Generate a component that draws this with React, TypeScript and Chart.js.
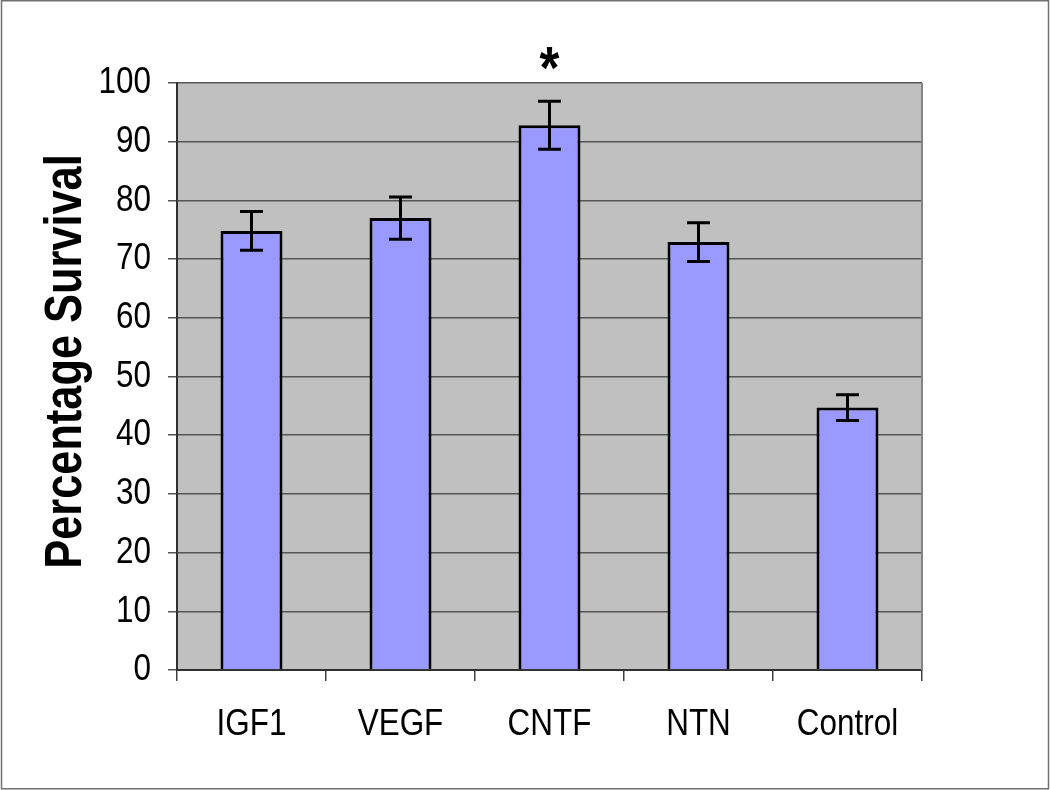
import React, { useEffect, useRef } from 'react';
import { Chart, registerables } from 'chart.js';

Chart.register(...registerables);

const categories: string[] = ['IGF1', 'VEGF', 'CNTF', 'NTN', 'Control'];
const survival: number[] = [74.8, 77.0, 92.8, 72.9, 44.7];
const errors: number[] = [3.3, 3.6, 4.1, 3.3, 2.2];
const significant: boolean[] = [false, false, true, false, false];
const yMin = 0;
const yMax = 100;
const yStep = 10;
const yTitle = 'Percentage Survival';

const FONT = "'Liberation Sans', Arial, sans-serif";
const TEXT_SQUEEZE = 0.85;

const decorPlugin = {
  id: 'decor',
  beforeDraw(chart: any) {
    const { ctx, chartArea, width, height } = chart;
    ctx.save();
    ctx.fillStyle = '#ffffff';
    ctx.fillRect(0, 0, width, height);
    ctx.fillStyle = '#c0c0c0';
    ctx.fillRect(chartArea.left, chartArea.top, chartArea.right - chartArea.left, chartArea.bottom - chartArea.top);
    ctx.strokeStyle = '#707070';
    ctx.lineWidth = 1.5;
    ctx.strokeRect(1.5, 0.75, width - 3, height - 2);
    ctx.restore();
  },
  beforeDatasetsDraw(chart: any) {
    const { ctx, chartArea } = chart;
    ctx.save();
    ctx.strokeStyle = '#858585';
    ctx.lineWidth = 2;
    ctx.beginPath();
    ctx.moveTo(chartArea.right, chartArea.top);
    ctx.lineTo(chartArea.right, chartArea.bottom);
    ctx.stroke();
    ctx.restore();
  },
  afterDatasetsDraw(chart: any) {
    const { ctx } = chart;
    const meta = chart.getDatasetMeta(0);
    const y = chart.scales.y;
    ctx.save();
    ctx.strokeStyle = '#000000';
    ctx.lineWidth = 3;
    ctx.lineCap = 'butt';
    meta.data.forEach((bar: any, i: number) => {
      const x = bar.x;
      const top = y.getPixelForValue(survival[i] + errors[i]);
      const bot = y.getPixelForValue(survival[i] - errors[i]);
      const cap = 11.5;
      ctx.beginPath();
      ctx.moveTo(x, top);
      ctx.lineTo(x, bot);
      ctx.moveTo(x - cap, top);
      ctx.lineTo(x + cap, top);
      ctx.moveTo(x - cap, bot);
      ctx.lineTo(x + cap, bot);
      ctx.stroke();
      if (significant[i]) {
        ctx.fillStyle = '#000000';
        ctx.font = `bold 60px ${FONT}`;
        ctx.textAlign = 'center';
        ctx.textBaseline = 'alphabetic';
        ctx.fillText('*', x, top - 13);
      }
    });
    ctx.restore();
  },
  afterDraw(chart: any) {
    // y-axis title, centred a little above the plot's middle as in the reference
    const { ctx, chartArea } = chart;
    const cy = (chartArea.top + chartArea.bottom) / 2 - 15;
    ctx.save();
    ctx.translate(67, cy);
    ctx.rotate(-Math.PI / 2);
    ctx.fillStyle = '#000000';
    ctx.font = `bold 51px ${FONT}`;
    ctx.textAlign = 'center';
    ctx.textBaseline = 'middle';
    ctx.fillText(yTitle, 0, 0);
    ctx.restore();
  },
};

export default function App() {
  const ref = useRef<HTMLCanvasElement | null>(null);

  useEffect(() => {
    document.body.style.margin = '0';
    const canvas = ref.current;
    if (!canvas) return;
    const ctx2d: any = canvas.getContext('2d');
    if (ctx2d && !ctx2d.__squeezed) {
      const origFill = ctx2d.fillText.bind(ctx2d);
      ctx2d.fillText = (text: string, x: number, y: number, maxWidth?: number) => {
        ctx2d.save();
        ctx2d.translate(x, y);
        ctx2d.scale(TEXT_SQUEEZE, 1);
        if (maxWidth === undefined) origFill(text, 0, 0);
        else origFill(text, 0, 0, maxWidth / TEXT_SQUEEZE);
        ctx2d.restore();
      };
      ctx2d.__squeezed = true;
    }
    const chart = new Chart(canvas, {
      type: 'bar',
      data: {
        labels: categories,
        datasets: [
          {
            data: survival,
            backgroundColor: '#9999ff',
            borderColor: '#000000',
            borderWidth: 3,
            barPercentage: 0.416,
            categoryPercentage: 1,
          },
        ],
      },
      options: {
        responsive: false,
        animation: false,
        devicePixelRatio: 1,
        layout: { padding: { left: 0, right: 128, top: 83, bottom: 0 } },
        plugins: {
          legend: { display: false },
          tooltip: { enabled: false },
        },
        scales: {
          x: {
            offset: true,
            grid: {
              display: true,
              offset: true,
              drawOnChartArea: false,
              drawTicks: true,
              tickLength: 11,
              color: '#404040',
              lineWidth: 1.5,
            },
            border: { display: true, color: '#303030', width: 2 },
            ticks: {
              color: '#000000',
              padding: 22,
              font: { family: FONT, size: 37 },
              maxRotation: 0,
            },
            afterFit(scale: any) {
              scale.height = 120;
            },
          },
          y: {
            min: yMin,
            max: yMax,
            ticks: {
              stepSize: yStep,
              color: '#000000',
              padding: 17,
              font: { family: FONT, size: 37 },
            },
            grid: {
              color: '#555555',
              lineWidth: 1.5,
              tickLength: 9,
              drawTicks: true,
            },
            border: { display: true, color: '#303030', width: 2 },
            title: { display: false, text: yTitle },
            afterFit(scale: any) {
              scale.width = 177;
            },
          },
        },
      },
      plugins: [decorPlugin],
    });
    return () => chart.destroy();
  }, []);

  return (
    <canvas
      ref={ref}
      width={1050}
      height={790}
      style={{ display: 'block', width: '1050px', height: '790px' }}
    />
  );
}
